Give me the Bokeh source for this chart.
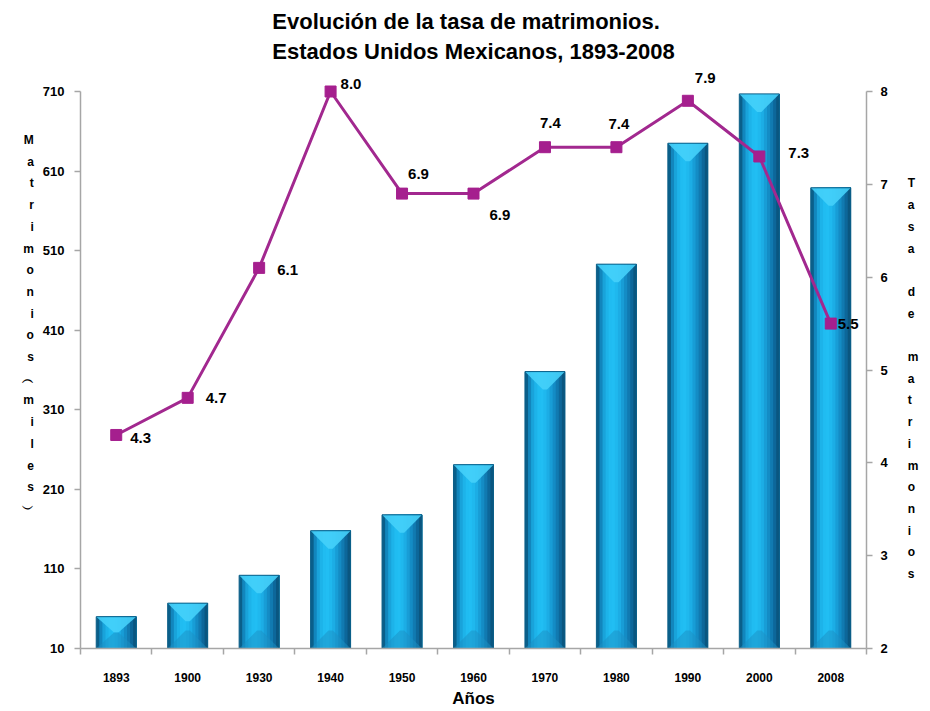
from bokeh.plotting import figure
from bokeh.models import Range1d, LinearAxis, FixedTicker
from bokeh.embed import file_html
from bokeh.resources import INLINE
from bokeh.core.properties import value

# ---------------- data ----------------
years = ["1893", "1900", "1930", "1940", "1950", "1960", "1970", "1980", "1990", "2000", "2008"]
matrimonios_miles = [50, 67, 102, 158, 178, 241, 358, 493, 645, 707, 589]
tasa = [4.3, 4.7, 6.1, 8.0, 6.9, 6.9, 7.4, 7.4, 7.9, 7.3, 5.5]
tasa_labels = ["4.3", "4.7", "6.1", "8.0", "6.9", "6.9", "7.4", "7.4", "7.9", "7.3", "5.5"]
left_ticks = [10, 110, 210, 310, 410, 510, 610, 710]
right_ticks = [2, 3, 4, 5, 6, 7, 8]
title_text = "Evolución de la tasa de matrimonios.\nEstados Unidos Mexicanos, 1893-2008"
left_title = "Matrimonios︵miles︶"
right_title = "Tasa de matrimonios"
x_title = "Años"

# ---------------- style / layout ----------------
FONT = "Liberation Sans"
AXIS_GRAY = "#a6a6a6"
LINE_COLOR = "#a2288f"
MARK_COLOR = "#a51f8e"
strip_colors = ["#0a5f8a", "#1286bd", "#19a3da", "#1db3e9", "#20bcf1", "#21bef3",
                "#1fb8ee", "#1cade5", "#189dd6", "#148cc5", "#117ab1", "#0d679a", "#0a5680"]
bar_w = 0.56
lab_dx = [14, 18, 18, 10, 6, 16, -5, -8, 7, 29, 7]
lab_dy = [3, 0, 2, -8, -20, 21, -24, -23, -23, -3, 0]

W, H = 926, 710
FR_L, FR_R, FR_T, FR_B = 80, 866, 65, 648   # frame edges (pixels)
AX_T = 91                                   # top of the axes (value 710 / 8)
LH = 1.55                                   # stacked-letter line height

n = len(years)
xc = [i + 0.5 for i in range(n)]
ymin, ymax = left_ticks[0], left_ticks[-1]
rmin, rmax = right_ticks[0], right_ticks[-1]
px_left = (FR_B - AX_T) / (ymax - ymin)
px_right = (FR_B - AX_T) / (rmax - rmin)
y_top = ymax + (AX_T - FR_T) / px_left
r_top = rmax + (AX_T - FR_T) / px_right

p = figure(width=W, height=H, x_range=Range1d(0, n), y_range=Range1d(ymin, y_top),
           output_backend="svg", toolbar_location=None,
           min_border_left=FR_L, min_border_right=W - FR_R,
           min_border_top=FR_T, min_border_bottom=H - FR_B)
p.outline_line_color = None
p.grid.visible = False
p.background_fill_color = "white"
p.border_fill_color = "white"

# title
p.title.text = title_text
p.title.align = "center"
p.title.text_font = FONT
p.title.text_font_style = "bold"
p.title.text_font_size = "22px"
p.title.text_line_height = 1.19
p.title.standoff = 3
p.title.text_color = "black"

# ---------------- bars (cylindrical gradient by overlapping strips) ----------------
ns = len(strip_colors)
sw = bar_w / ns
for k, c in enumerate(strip_colors):
    left_edge = -bar_w / 2 + k * sw
    w = bar_w / 2 - left_edge
    off = left_edge + w / 2
    p.vbar(x=[x + off for x in xc], top=matrimonios_miles, bottom=ymin, width=w,
           fill_color=c, line_color=None)

bev = 18 / px_left
top_xs, top_ys, bot_xs, bot_ys = [], [], [], []
for x, v in zip(xc, matrimonios_miles):
    d = min(bev, (v - ymin) / 2)
    top_xs.append([x - bar_w / 2, x + bar_w / 2, x + 0.03, x - 0.03])
    top_ys.append([v, v, v - d, v - d])
    bot_xs.append([x - bar_w / 2, x + bar_w / 2, x + 0.03, x - 0.03])
    bot_ys.append([ymin, ymin, ymin + d, ymin + d])
p.patches(top_xs, top_ys, fill_color="#45d0fa", fill_alpha=0.9, line_color=None)
p.patches(bot_xs, bot_ys, fill_color="#1b8fc4", fill_alpha=0.5, line_color=None)
p.vbar(x=xc, top=matrimonios_miles, bottom=ymin, width=bar_w, fill_color=None,
       line_color="#0c5f88", line_width=1)

# ---------------- secondary axis + line ----------------
p.extra_y_ranges = {"tasa": Range1d(rmin, r_top)}
p.line(xc, tasa, y_range_name="tasa", line_color=LINE_COLOR, line_width=3)
p.scatter(xc, tasa, y_range_name="tasa", marker="square", size=11,
          fill_color=MARK_COLOR, line_color=MARK_COLOR)
p.text(x=xc, y=tasa, text=tasa_labels, y_range_name="tasa", x_offset=lab_dx, y_offset=lab_dy,
       text_font=value(FONT), text_font_style="bold", text_font_size="15px",
       text_align="left", text_baseline="middle", text_color="black")

# ---------------- axes ----------------
def style_axis(ax, size="13px"):
    ax.axis_line_color = AXIS_GRAY
    ax.axis_line_width = 1.5
    ax.major_tick_line_color = AXIS_GRAY
    ax.major_tick_line_width = 1.5
    ax.minor_tick_line_color = None
    ax.major_tick_in = 0
    ax.major_tick_out = 6
    ax.major_label_text_font = FONT
    ax.major_label_text_font_style = "bold"
    ax.major_label_text_font_size = size
    ax.major_label_text_color = "black"
    ax.axis_label_text_font = FONT
    ax.axis_label_text_font_style = "bold"
    ax.axis_label_text_color = "black"

yl = p.yaxis[0]
yl.ticker = FixedTicker(ticks=left_ticks)
yl.bounds = (ymin, ymax)
style_axis(yl)
yl.major_label_standoff = 10
yl.axis_label = "\n".join(left_title) + "\n\n\n"
yl.axis_label_orientation = "horizontal"
yl.axis_label_text_font_size = "12px"
yl.axis_label_text_line_height = LH
yl.axis_label_text_align = "center"
yl.axis_label_standoff = 6

yr = LinearAxis(y_range_name="tasa", ticker=FixedTicker(ticks=right_ticks), bounds=(rmin, rmax))
style_axis(yr)
yr.major_label_standoff = 8
yr.axis_label = "\n\n" + "\n".join(right_title)
yr.axis_label_orientation = "horizontal"
yr.axis_label_text_font_size = "12px"
yr.axis_label_text_line_height = LH
yr.axis_label_text_align = "center"
yr.axis_label_standoff = 17
p.add_layout(yr, "right")

xb = p.xaxis[0]
xb.ticker = FixedTicker(ticks=xc, minor_ticks=list(range(n + 1)))
style_axis(xb, "12px")
xb.major_tick_line_color = None
xb.major_tick_out = 0
xb.minor_tick_line_color = AXIS_GRAY
xb.minor_tick_line_width = 1.5
xb.minor_tick_in = 0
xb.minor_tick_out = 6
xb.major_label_standoff = 18
xb.major_label_overrides = {x: y for x, y in zip(xc, years)}
xb.axis_label = x_title
xb.axis_label_text_font_size = "17px"
xb.axis_label_standoff = 4

open("out.html", "w").write(file_html(p, INLINE))
